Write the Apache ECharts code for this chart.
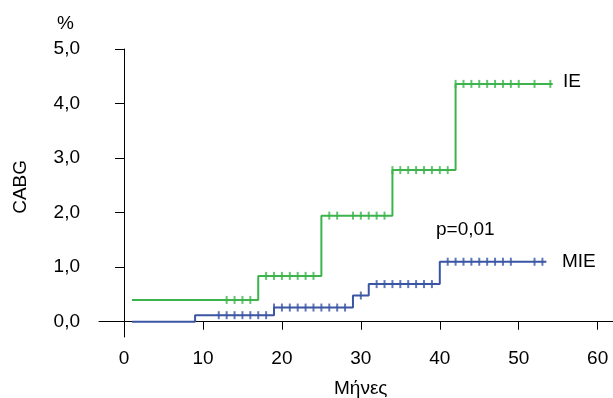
<!DOCTYPE html>
<html>
<head>
<meta charset="utf-8">
<script src="https://cdn.jsdelivr.net/npm/echarts@6/dist/echarts.min.js"></script>
<style>
  html, body { margin: 0; padding: 0; background: #fff; }
  #chart { width: 613px; height: 398px; }
</style>
</head>
<body>
<div id="chart"></div>
<script>
// step curves: [month, %] - value holds until the next point
var ieSteps = [[1, 0.40], [17, 0.84], [25, 1.945], [34, 2.78], [42, 4.36], [54.3, 4.36]]
var mieSteps = [[1, 0.0], [9, 0.12], [19, 0.26], [29, 0.48], [31, 0.69], [40, 1.1], [53.5, 1.1]]

// censored times (tick marks)
var ieCensor = [13, 14, 15, 16, 18, 19, 20, 21, 22, 23, 24, 26, 27, 29, 30, 31, 32, 33,
  34, 35, 36, 37, 38, 39, 40, 41, 42, 43, 44, 45, 46, 47, 48, 49, 50, 52, 54]
var mieCensor = [12, 13, 14, 15, 16, 17, 18, 19, 20, 21, 22, 23, 24, 25, 26, 27, 28, 30,
  32, 33, 34, 35, 36, 37, 38, 39, 41, 42, 43, 44, 45, 46, 47, 48, 49, 52, 53]

var xTicks = [0, 10, 20, 30, 40, 50, 60]
var yTicks = [0, 1, 2, 3, 4, 5]

var green = '#3cb44b'
var blue = '#3a55a4'
var font = 'Liberation Sans, Arial, sans-serif'

function levelAt(steps, t) {
  var v = steps[0][1]
  for (var i = 0; i < steps.length; i++) {
    if (steps[i][0] <= t) v = steps[i][1]
  }
  return v
}
function censorPoints(steps, times) {
  return times.map(function (t) { return [t, levelAt(steps, t)] })
}

var myChart = echarts.init(document.getElementById('chart'))
var option = {
  animation: false,
  grid: { left: 99, top: 49, right: 0, bottom: 61 },
  xAxis: {
    type: 'value',
    min: -3.17,
    max: 61.94,
    splitLine: { show: false },
    axisLine: { show: true, lineStyle: { color: '#000', width: 1 } },
    axisTick: { show: true, length: 8, customValues: xTicks, lineStyle: { color: '#000' } },
    axisLabel: {
      customValues: xTicks,
      margin: 12,
      color: '#000',
      fontSize: 19,
      fontFamily: font
    }
  },
  yAxis: {
    type: 'value',
    min: -0.28,
    max: 5.0,
    splitLine: { show: false },
    axisLine: { show: true, lineStyle: { color: '#000', width: 1 } },
    axisTick: { show: true, length: 9, customValues: yTicks, lineStyle: { color: '#000' } },
    axisLabel: {
      customValues: yTicks,
      margin: 19,
      color: '#000',
      fontSize: 19,
      fontFamily: font,
      formatter: function (v) { return v.toFixed(1).replace('.', ',') }
    }
  },
  series: [
    {
      name: 'IE',
      type: 'line',
      step: 'end',
      data: ieSteps,
      showSymbol: false,
      lineStyle: { color: green, width: 2 }
    },
    {
      name: 'MIE',
      type: 'line',
      step: 'end',
      data: mieSteps,
      showSymbol: false,
      lineStyle: { color: blue, width: 2 }
    },
    {
      name: 'IE censored',
      type: 'scatter',
      data: censorPoints(ieSteps, ieCensor),
      symbol: 'rect',
      symbolSize: [2, 8],
      itemStyle: { color: green }
    },
    {
      name: 'MIE censored',
      type: 'scatter',
      data: censorPoints(mieSteps, mieCensor),
      symbol: 'rect',
      symbolSize: [2, 8],
      itemStyle: { color: blue }
    }
  ],
  graphic: [
    { type: 'text', left: 57, top: 14, style: { text: '%', fontSize: 19, fontFamily: font, fill: '#000' } },
    { type: 'text', left: 563, top: 72, style: { text: 'IE', fontSize: 19, fontFamily: font, fill: '#000' } },
    { type: 'text', left: 562, top: 252, style: { text: 'MIE', fontSize: 19, fontFamily: font, fill: '#000' } },
    { type: 'text', left: 436, top: 220, style: { text: 'p=0,01', fontSize: 19, fontFamily: font, fill: '#000' } },
    { type: 'text', left: 334, top: 379, style: { text: 'Μήνες', fontSize: 19, fontFamily: font, fill: '#000' } },
    { type: 'text', left: 11, top: 160, rotation: Math.PI / 2, style: { text: 'CABG', fontSize: 19, fontFamily: font, fill: '#000' } }
  ]
}

option && myChart.setOption(option)
</script>
</body>
</html>
